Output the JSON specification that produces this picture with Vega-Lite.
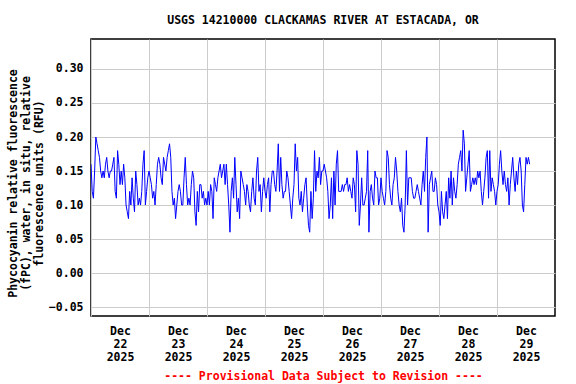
{
"$schema": "https://vega.github.io/schema/vega-lite/v6.json",
"width": 464, "height": 277,
"autosize": {"type": "none"},
"padding": {"left": 91, "top": 39, "right": 21, "bottom": 68},
"background": "white",
"title": {"text": "USGS 14210000 CLACKAMAS RIVER AT ESTACADA, OR", "font": "DejaVu Sans Mono", "fontSize": 11.5, "fontWeight": "bold", "color": "black", "anchor": "middle", "offset": 13},
"config": {"view": {"stroke": "black", "strokeWidth": 1.5}},
"datasets": {"d": [
{"t":"2025-12-22T00:00Z","v":0.16},{"t":"2025-12-22T00:30Z","v":0.12},{"t":"2025-12-22T01:00Z","v":0.11},{"t":"2025-12-22T01:30Z","v":0.15},{"t":"2025-12-22T02:00Z","v":0.20},{"t":"2025-12-22T02:30Z","v":0.19},{"t":"2025-12-22T03:00Z","v":0.18},{"t":"2025-12-22T03:30Z","v":0.17},{"t":"2025-12-22T04:00Z","v":0.15},{"t":"2025-12-22T04:30Z","v":0.14},
{"t":"2025-12-22T05:00Z","v":0.15},{"t":"2025-12-22T05:30Z","v":0.14},{"t":"2025-12-22T06:00Z","v":0.16},{"t":"2025-12-22T06:30Z","v":0.17},{"t":"2025-12-22T07:00Z","v":0.15},{"t":"2025-12-22T07:30Z","v":0.14},{"t":"2025-12-22T08:00Z","v":0.15},{"t":"2025-12-22T08:30Z","v":0.15},{"t":"2025-12-22T09:00Z","v":0.16},{"t":"2025-12-22T09:30Z","v":0.17},
{"t":"2025-12-22T10:00Z","v":0.12},{"t":"2025-12-22T10:30Z","v":0.11},{"t":"2025-12-22T11:00Z","v":0.18},{"t":"2025-12-22T11:30Z","v":0.16},{"t":"2025-12-22T12:00Z","v":0.13},{"t":"2025-12-22T12:30Z","v":0.15},{"t":"2025-12-22T13:00Z","v":0.13},{"t":"2025-12-22T13:30Z","v":0.16},{"t":"2025-12-22T14:00Z","v":0.14},{"t":"2025-12-22T14:30Z","v":0.10},
{"t":"2025-12-22T15:00Z","v":0.09},{"t":"2025-12-22T15:30Z","v":0.08},{"t":"2025-12-22T16:00Z","v":0.12},{"t":"2025-12-22T16:30Z","v":0.10},{"t":"2025-12-22T17:00Z","v":0.14},{"t":"2025-12-22T17:30Z","v":0.11},{"t":"2025-12-22T18:00Z","v":0.09},{"t":"2025-12-22T18:30Z","v":0.15},{"t":"2025-12-22T19:00Z","v":0.13},{"t":"2025-12-22T19:30Z","v":0.10},
{"t":"2025-12-22T20:00Z","v":0.11},{"t":"2025-12-22T20:30Z","v":0.10},{"t":"2025-12-22T21:00Z","v":0.12},{"t":"2025-12-22T21:30Z","v":0.16},{"t":"2025-12-22T22:00Z","v":0.18},{"t":"2025-12-22T22:30Z","v":0.10},{"t":"2025-12-22T23:00Z","v":0.12},{"t":"2025-12-22T23:30Z","v":0.14},
{"t":"2025-12-23T00:00Z","v":0.15},{"t":"2025-12-23T00:30Z","v":0.14},{"t":"2025-12-23T01:00Z","v":0.13},{"t":"2025-12-23T01:30Z","v":0.11},{"t":"2025-12-23T02:00Z","v":0.12},{"t":"2025-12-23T02:30Z","v":0.10},{"t":"2025-12-23T03:00Z","v":0.13},{"t":"2025-12-23T03:30Z","v":0.16},{"t":"2025-12-23T04:00Z","v":0.17},{"t":"2025-12-23T04:30Z","v":0.16},
{"t":"2025-12-23T05:00Z","v":0.14},{"t":"2025-12-23T05:30Z","v":0.13},{"t":"2025-12-23T06:00Z","v":0.17},{"t":"2025-12-23T06:30Z","v":0.16},{"t":"2025-12-23T07:00Z","v":0.15},{"t":"2025-12-23T07:30Z","v":0.17},{"t":"2025-12-23T08:00Z","v":0.18},{"t":"2025-12-23T08:30Z","v":0.19},{"t":"2025-12-23T09:00Z","v":0.17},{"t":"2025-12-23T09:30Z","v":0.12},
{"t":"2025-12-23T10:00Z","v":0.10},{"t":"2025-12-23T10:30Z","v":0.11},{"t":"2025-12-23T11:00Z","v":0.08},{"t":"2025-12-23T11:30Z","v":0.10},{"t":"2025-12-23T12:00Z","v":0.12},{"t":"2025-12-23T12:30Z","v":0.13},{"t":"2025-12-23T13:00Z","v":0.12},{"t":"2025-12-23T13:30Z","v":0.10},{"t":"2025-12-23T14:00Z","v":0.10},{"t":"2025-12-23T14:30Z","v":0.14},
{"t":"2025-12-23T15:00Z","v":0.17},{"t":"2025-12-23T15:30Z","v":0.13},{"t":"2025-12-23T16:00Z","v":0.10},{"t":"2025-12-23T16:30Z","v":0.11},{"t":"2025-12-23T17:00Z","v":0.10},{"t":"2025-12-23T17:30Z","v":0.13},{"t":"2025-12-23T18:00Z","v":0.15},{"t":"2025-12-23T18:30Z","v":0.14},{"t":"2025-12-23T19:00Z","v":0.09},{"t":"2025-12-23T19:30Z","v":0.07},
{"t":"2025-12-23T20:00Z","v":0.12},{"t":"2025-12-23T20:30Z","v":0.09},{"t":"2025-12-23T21:00Z","v":0.13},{"t":"2025-12-23T21:30Z","v":0.13},{"t":"2025-12-23T22:00Z","v":0.11},{"t":"2025-12-23T22:30Z","v":0.12},{"t":"2025-12-23T23:00Z","v":0.10},{"t":"2025-12-23T23:30Z","v":0.11},
{"t":"2025-12-24T00:00Z","v":0.10},{"t":"2025-12-24T00:30Z","v":0.12},{"t":"2025-12-24T01:00Z","v":0.10},{"t":"2025-12-24T01:30Z","v":0.13},{"t":"2025-12-24T02:00Z","v":0.12},{"t":"2025-12-24T02:30Z","v":0.08},{"t":"2025-12-24T03:00Z","v":0.14},{"t":"2025-12-24T03:30Z","v":0.13},{"t":"2025-12-24T04:00Z","v":0.12},{"t":"2025-12-24T04:30Z","v":0.14},
{"t":"2025-12-24T05:00Z","v":0.15},{"t":"2025-12-24T05:30Z","v":0.16},{"t":"2025-12-24T06:00Z","v":0.14},{"t":"2025-12-24T06:30Z","v":0.15},{"t":"2025-12-24T07:00Z","v":0.16},{"t":"2025-12-24T07:30Z","v":0.13},{"t":"2025-12-24T08:00Z","v":0.16},{"t":"2025-12-24T08:30Z","v":0.13},{"t":"2025-12-24T09:00Z","v":0.10},{"t":"2025-12-24T09:30Z","v":0.06},
{"t":"2025-12-24T10:00Z","v":0.12},{"t":"2025-12-24T10:30Z","v":0.14},{"t":"2025-12-24T11:00Z","v":0.11},{"t":"2025-12-24T11:30Z","v":0.17},{"t":"2025-12-24T12:00Z","v":0.13},{"t":"2025-12-24T12:30Z","v":0.09},{"t":"2025-12-24T13:00Z","v":0.11},{"t":"2025-12-24T13:30Z","v":0.08},{"t":"2025-12-24T14:00Z","v":0.15},{"t":"2025-12-24T14:30Z","v":0.14},
{"t":"2025-12-24T15:00Z","v":0.13},{"t":"2025-12-24T15:30Z","v":0.12},{"t":"2025-12-24T16:00Z","v":0.10},{"t":"2025-12-24T16:30Z","v":0.13},{"t":"2025-12-24T17:00Z","v":0.12},{"t":"2025-12-24T17:30Z","v":0.10},{"t":"2025-12-24T18:00Z","v":0.09},{"t":"2025-12-24T18:30Z","v":0.12},{"t":"2025-12-24T19:00Z","v":0.14},{"t":"2025-12-24T19:30Z","v":0.11},
{"t":"2025-12-24T20:00Z","v":0.10},{"t":"2025-12-24T20:30Z","v":0.15},{"t":"2025-12-24T21:00Z","v":0.17},{"t":"2025-12-24T21:30Z","v":0.12},{"t":"2025-12-24T22:00Z","v":0.13},{"t":"2025-12-24T22:30Z","v":0.09},{"t":"2025-12-24T23:00Z","v":0.12},{"t":"2025-12-24T23:30Z","v":0.14},
{"t":"2025-12-25T00:00Z","v":0.12},{"t":"2025-12-25T00:30Z","v":0.11},{"t":"2025-12-25T01:00Z","v":0.13},{"t":"2025-12-25T01:30Z","v":0.14},{"t":"2025-12-25T02:00Z","v":0.09},{"t":"2025-12-25T02:30Z","v":0.13},{"t":"2025-12-25T03:00Z","v":0.15},{"t":"2025-12-25T03:30Z","v":0.15},{"t":"2025-12-25T04:00Z","v":0.13},{"t":"2025-12-25T04:30Z","v":0.12},
{"t":"2025-12-25T05:00Z","v":0.15},{"t":"2025-12-25T05:30Z","v":0.19},{"t":"2025-12-25T06:00Z","v":0.12},{"t":"2025-12-25T06:30Z","v":0.17},{"t":"2025-12-25T07:00Z","v":0.13},{"t":"2025-12-25T07:30Z","v":0.11},{"t":"2025-12-25T08:00Z","v":0.12},{"t":"2025-12-25T08:30Z","v":0.12},{"t":"2025-12-25T09:00Z","v":0.15},{"t":"2025-12-25T09:30Z","v":0.14},
{"t":"2025-12-25T10:00Z","v":0.12},{"t":"2025-12-25T10:30Z","v":0.10},{"t":"2025-12-25T11:00Z","v":0.08},{"t":"2025-12-25T11:30Z","v":0.11},{"t":"2025-12-25T12:00Z","v":0.13},{"t":"2025-12-25T12:30Z","v":0.19},{"t":"2025-12-25T13:00Z","v":0.15},{"t":"2025-12-25T13:30Z","v":0.17},{"t":"2025-12-25T14:00Z","v":0.11},{"t":"2025-12-25T14:30Z","v":0.10},
{"t":"2025-12-25T15:00Z","v":0.12},{"t":"2025-12-25T15:30Z","v":0.09},{"t":"2025-12-25T16:00Z","v":0.11},{"t":"2025-12-25T16:30Z","v":0.13},{"t":"2025-12-25T17:00Z","v":0.14},{"t":"2025-12-25T17:30Z","v":0.10},{"t":"2025-12-25T18:00Z","v":0.07},{"t":"2025-12-25T18:30Z","v":0.06},{"t":"2025-12-25T19:00Z","v":0.12},{"t":"2025-12-25T19:30Z","v":0.08},
{"t":"2025-12-25T20:00Z","v":0.11},{"t":"2025-12-25T20:30Z","v":0.18},{"t":"2025-12-25T21:00Z","v":0.12},{"t":"2025-12-25T21:30Z","v":0.15},{"t":"2025-12-25T22:00Z","v":0.14},{"t":"2025-12-25T22:30Z","v":0.17},{"t":"2025-12-25T23:00Z","v":0.13},{"t":"2025-12-25T23:30Z","v":0.15},
{"t":"2025-12-26T00:00Z","v":0.15},{"t":"2025-12-26T00:30Z","v":0.16},{"t":"2025-12-26T01:00Z","v":0.15},{"t":"2025-12-26T01:30Z","v":0.14},{"t":"2025-12-26T02:00Z","v":0.12},{"t":"2025-12-26T02:30Z","v":0.08},{"t":"2025-12-26T03:00Z","v":0.10},{"t":"2025-12-26T03:30Z","v":0.14},{"t":"2025-12-26T04:00Z","v":0.08},{"t":"2025-12-26T04:30Z","v":0.15},
{"t":"2025-12-26T05:00Z","v":0.10},{"t":"2025-12-26T05:30Z","v":0.16},{"t":"2025-12-26T06:00Z","v":0.18},{"t":"2025-12-26T06:30Z","v":0.12},{"t":"2025-12-26T07:00Z","v":0.12},{"t":"2025-12-26T07:30Z","v":0.12},{"t":"2025-12-26T08:00Z","v":0.13},{"t":"2025-12-26T08:30Z","v":0.12},{"t":"2025-12-26T09:00Z","v":0.13},{"t":"2025-12-26T09:30Z","v":0.13},
{"t":"2025-12-26T10:00Z","v":0.14},{"t":"2025-12-26T10:30Z","v":0.12},{"t":"2025-12-26T11:00Z","v":0.13},{"t":"2025-12-26T11:30Z","v":0.12},{"t":"2025-12-26T12:00Z","v":0.11},{"t":"2025-12-26T12:30Z","v":0.14},{"t":"2025-12-26T13:00Z","v":0.13},{"t":"2025-12-26T13:30Z","v":0.09},{"t":"2025-12-26T14:00Z","v":0.18},{"t":"2025-12-26T14:30Z","v":0.16},
{"t":"2025-12-26T15:00Z","v":0.07},{"t":"2025-12-26T15:30Z","v":0.10},{"t":"2025-12-26T16:00Z","v":0.14},{"t":"2025-12-26T16:30Z","v":0.10},{"t":"2025-12-26T17:00Z","v":0.10},{"t":"2025-12-26T17:30Z","v":0.11},{"t":"2025-12-26T18:00Z","v":0.12},{"t":"2025-12-26T18:30Z","v":0.18},{"t":"2025-12-26T19:00Z","v":0.06},{"t":"2025-12-26T19:30Z","v":0.12},
{"t":"2025-12-26T20:00Z","v":0.13},{"t":"2025-12-26T20:30Z","v":0.11},{"t":"2025-12-26T21:00Z","v":0.10},{"t":"2025-12-26T21:30Z","v":0.15},{"t":"2025-12-26T22:00Z","v":0.14},{"t":"2025-12-26T22:30Z","v":0.14},{"t":"2025-12-26T23:00Z","v":0.10},{"t":"2025-12-26T23:30Z","v":0.11},
{"t":"2025-12-27T00:00Z","v":0.14},{"t":"2025-12-27T00:30Z","v":0.12},{"t":"2025-12-27T01:00Z","v":0.11},{"t":"2025-12-27T01:30Z","v":0.10},{"t":"2025-12-27T02:00Z","v":0.12},{"t":"2025-12-27T02:30Z","v":0.18},{"t":"2025-12-27T03:00Z","v":0.17},{"t":"2025-12-27T03:30Z","v":0.13},{"t":"2025-12-27T04:00Z","v":0.11},{"t":"2025-12-27T04:30Z","v":0.10},
{"t":"2025-12-27T05:00Z","v":0.13},{"t":"2025-12-27T05:30Z","v":0.14},{"t":"2025-12-27T06:00Z","v":0.17},{"t":"2025-12-27T06:30Z","v":0.15},{"t":"2025-12-27T07:00Z","v":0.12},{"t":"2025-12-27T07:30Z","v":0.10},{"t":"2025-12-27T08:00Z","v":0.09},{"t":"2025-12-27T08:30Z","v":0.11},{"t":"2025-12-27T09:00Z","v":0.07},{"t":"2025-12-27T09:30Z","v":0.06},
{"t":"2025-12-27T10:00Z","v":0.10},{"t":"2025-12-27T10:30Z","v":0.18},{"t":"2025-12-27T11:00Z","v":0.10},{"t":"2025-12-27T11:30Z","v":0.14},{"t":"2025-12-27T12:00Z","v":0.14},{"t":"2025-12-27T12:30Z","v":0.14},{"t":"2025-12-27T13:00Z","v":0.12},{"t":"2025-12-27T13:30Z","v":0.11},{"t":"2025-12-27T14:00Z","v":0.11},{"t":"2025-12-27T14:30Z","v":0.12},
{"t":"2025-12-27T15:00Z","v":0.13},{"t":"2025-12-27T15:30Z","v":0.12},{"t":"2025-12-27T16:00Z","v":0.11},{"t":"2025-12-27T16:30Z","v":0.10},{"t":"2025-12-27T17:00Z","v":0.13},{"t":"2025-12-27T17:30Z","v":0.15},{"t":"2025-12-27T18:00Z","v":0.12},{"t":"2025-12-27T18:30Z","v":0.17},{"t":"2025-12-27T19:00Z","v":0.20},{"t":"2025-12-27T19:30Z","v":0.06},
{"t":"2025-12-27T20:00Z","v":0.13},{"t":"2025-12-27T20:30Z","v":0.14},{"t":"2025-12-27T21:00Z","v":0.15},{"t":"2025-12-27T21:30Z","v":0.12},{"t":"2025-12-27T22:00Z","v":0.12},{"t":"2025-12-27T22:30Z","v":0.14},{"t":"2025-12-27T23:00Z","v":0.13},{"t":"2025-12-27T23:30Z","v":0.10},
{"t":"2025-12-28T00:00Z","v":0.09},{"t":"2025-12-28T00:30Z","v":0.07},{"t":"2025-12-28T01:00Z","v":0.12},{"t":"2025-12-28T01:30Z","v":0.09},{"t":"2025-12-28T02:00Z","v":0.08},{"t":"2025-12-28T02:30Z","v":0.10},{"t":"2025-12-28T03:00Z","v":0.12},{"t":"2025-12-28T03:30Z","v":0.08},{"t":"2025-12-28T04:00Z","v":0.14},{"t":"2025-12-28T04:30Z","v":0.11},
{"t":"2025-12-28T05:00Z","v":0.15},{"t":"2025-12-28T05:30Z","v":0.10},{"t":"2025-12-28T06:00Z","v":0.14},{"t":"2025-12-28T06:30Z","v":0.12},{"t":"2025-12-28T07:00Z","v":0.11},{"t":"2025-12-28T07:30Z","v":0.13},{"t":"2025-12-28T08:00Z","v":0.16},{"t":"2025-12-28T08:30Z","v":0.17},{"t":"2025-12-28T09:00Z","v":0.18},{"t":"2025-12-28T09:30Z","v":0.15},
{"t":"2025-12-28T10:00Z","v":0.21},{"t":"2025-12-28T10:30Z","v":0.19},{"t":"2025-12-28T11:00Z","v":0.12},{"t":"2025-12-28T11:30Z","v":0.14},{"t":"2025-12-28T12:00Z","v":0.16},{"t":"2025-12-28T12:30Z","v":0.18},{"t":"2025-12-28T13:00Z","v":0.12},{"t":"2025-12-28T13:30Z","v":0.13},{"t":"2025-12-28T14:00Z","v":0.14},{"t":"2025-12-28T14:30Z","v":0.13},
{"t":"2025-12-28T15:00Z","v":0.14},{"t":"2025-12-28T15:30Z","v":0.13},{"t":"2025-12-28T16:00Z","v":0.15},{"t":"2025-12-28T16:30Z","v":0.14},{"t":"2025-12-28T17:00Z","v":0.15},{"t":"2025-12-28T17:30Z","v":0.12},{"t":"2025-12-28T18:00Z","v":0.10},{"t":"2025-12-28T18:30Z","v":0.12},{"t":"2025-12-28T19:00Z","v":0.14},{"t":"2025-12-28T19:30Z","v":0.17},
{"t":"2025-12-28T20:00Z","v":0.18},{"t":"2025-12-28T20:30Z","v":0.11},{"t":"2025-12-28T21:00Z","v":0.18},{"t":"2025-12-28T21:30Z","v":0.12},{"t":"2025-12-28T22:00Z","v":0.14},{"t":"2025-12-28T22:30Z","v":0.13},{"t":"2025-12-28T23:00Z","v":0.12},{"t":"2025-12-28T23:30Z","v":0.10},
{"t":"2025-12-29T00:00Z","v":0.12},{"t":"2025-12-29T00:30Z","v":0.13},{"t":"2025-12-29T01:00Z","v":0.16},{"t":"2025-12-29T01:30Z","v":0.18},{"t":"2025-12-29T02:00Z","v":0.15},{"t":"2025-12-29T02:30Z","v":0.13},{"t":"2025-12-29T03:00Z","v":0.15},{"t":"2025-12-29T03:30Z","v":0.13},{"t":"2025-12-29T04:00Z","v":0.12},{"t":"2025-12-29T04:30Z","v":0.14},
{"t":"2025-12-29T05:00Z","v":0.10},{"t":"2025-12-29T05:30Z","v":0.13},{"t":"2025-12-29T06:00Z","v":0.15},{"t":"2025-12-29T06:30Z","v":0.17},{"t":"2025-12-29T07:00Z","v":0.14},{"t":"2025-12-29T07:30Z","v":0.12},{"t":"2025-12-29T08:00Z","v":0.15},{"t":"2025-12-29T08:30Z","v":0.13},{"t":"2025-12-29T09:00Z","v":0.16},{"t":"2025-12-29T09:30Z","v":0.17},
{"t":"2025-12-29T10:00Z","v":0.15},{"t":"2025-12-29T10:30Z","v":0.10},{"t":"2025-12-29T11:00Z","v":0.09},{"t":"2025-12-29T11:30Z","v":0.13},{"t":"2025-12-29T12:00Z","v":0.17},{"t":"2025-12-29T12:30Z","v":0.16},{"t":"2025-12-29T13:00Z","v":0.17},{"t":"2025-12-29T13:30Z","v":0.16}
]},
"data": {"name": "d"},
"mark": {"type": "line", "color": "#0000ff", "strokeWidth": 1, "clip": true},
"encoding": {
  "x": {"field": "t", "type": "temporal",
    "scale": {"type": "utc", "domain": [{"year": 2025, "month": 12, "date": 22, "utc": true}, {"year": 2025, "month": 12, "date": 30, "utc": true}]},
    "axis": {
      "values": [{"year": 2025, "month": 12, "date": 22, "utc": true}, {"year": 2025, "month": 12, "date": 23, "utc": true}, {"year": 2025, "month": 12, "date": 24, "utc": true}, {"year": 2025, "month": 12, "date": 25, "utc": true}, {"year": 2025, "month": 12, "date": 26, "utc": true}, {"year": 2025, "month": 12, "date": 27, "utc": true}, {"year": 2025, "month": 12, "date": 28, "utc": true}, {"year": 2025, "month": 12, "date": 29, "utc": true}],
      "grid": true, "gridColor": "#cccccc", "gridWidth": 1, "gridOpacity": 1,
      "ticks": false, "domain": false,
      "labelOffset": 29, "labelFlush": false, "labelOverlap": false, "labelBound": false,
      "labelExpr": "[utcFormat(datum.value, '%b'), utcFormat(datum.value, '%-d'), utcFormat(datum.value, '%Y')]",
      "labelFont": "DejaVu Sans Mono", "labelFontSize": 11.5, "labelFontWeight": "bold", "labelColor": "black",
      "labelPadding": 9, "labelLineHeight": 13, "labelBaseline": "top",
      "title": "---- Provisional Data Subject to Revision ----",
      "titleColor": "#ff0000", "titleFont": "DejaVu Sans Mono", "titleFontSize": 11.5, "titleFontWeight": "bold", "titlePadding": 8
    }
  },
  "y": {"field": "v", "type": "quantitative",
    "scale": {"domain": [-0.0632, 0.3441], "nice": false, "zero": false},
    "axis": {
      "values": [-0.05, 0, 0.05, 0.1, 0.15, 0.2, 0.25, 0.3], "format": ".2f",
      "grid": true, "gridColor": "#cccccc", "gridWidth": 1, "gridOpacity": 1,
      "ticks": false, "domain": false,
      "labelFont": "DejaVu Sans Mono", "labelFontSize": 11.5, "labelFontWeight": "bold", "labelColor": "black",
      "labelPadding": 8, "labelFlush": false, "labelOverlap": false,
      "title": ["Phycocyanin relative fluorescence", "(fPC), water, in situ, relative", "fluorescence units (RFU)"],
      "titleColor": "black", "titleFont": "DejaVu Sans Mono", "titleFontSize": 11.5, "titleFontWeight": "bold",
      "titleLineHeight": 13, "titlePadding": 4, "titleY": 144
    }
  }
}
}
